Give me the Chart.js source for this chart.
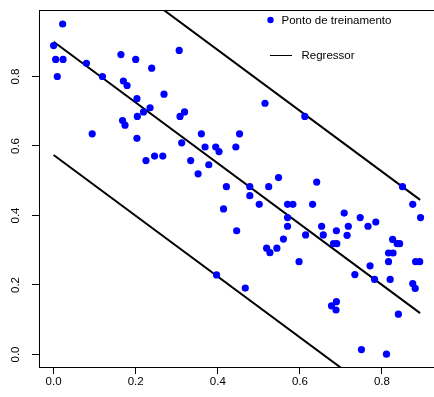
<!DOCTYPE html>
<html>
<head>
<meta charset="utf-8">
<script src="https://cdn.jsdelivr.net/npm/chart.js@4"></script>
<style>
  html, body { margin: 0; padding: 0; background: #fff; overflow: hidden; }
  #wrap { width: 438px; height: 397px; }
</style>
</head>
<body>
<div id="wrap"><canvas id="chart" width="438" height="397"></canvas></div>
<script>
// Training points
const pointsX = [
  0.022, 0.000, 0.005, 0.023, 0.009, 0.080, 0.119, 0.164, 0.200, 0.170,
  0.179, 0.203, 0.204, 0.168, 0.174, 0.094, 0.203, 0.306, 0.239, 0.269,
  0.235, 0.219, 0.319, 0.308, 0.360, 0.312, 0.369, 0.395, 0.403, 0.444,
  0.453, 0.246, 0.266, 0.225, 0.334, 0.378, 0.352, 0.421, 0.515, 0.612,
  0.548, 0.524, 0.478, 0.641, 0.850, 0.478, 0.501, 0.570, 0.583, 0.631,
  0.570, 0.570, 0.446, 0.560, 0.614, 0.653, 0.657, 0.689, 0.682, 0.690,
  0.519, 0.527, 0.544, 0.598, 0.467, 0.677, 0.689, 0.688, 0.875, 0.894,
  0.708, 0.747, 0.785, 0.766, 0.718, 0.715, 0.826, 0.837, 0.843, 0.816,
  0.827, 0.816, 0.882, 0.892, 0.771, 0.734, 0.782, 0.820, 0.875, 0.881,
  0.840, 0.750, 0.811, 0.414, 0.397
];
const pointsY = [
  0.951, 0.889, 0.849, 0.849, 0.800, 0.838, 0.800, 0.863, 0.849, 0.787,
  0.774, 0.736, 0.685, 0.673, 0.660, 0.635, 0.622, 0.875, 0.824, 0.749,
  0.710, 0.698, 0.698, 0.685, 0.635, 0.609, 0.597, 0.597, 0.584, 0.597,
  0.635, 0.571, 0.571, 0.558, 0.558, 0.546, 0.520, 0.483, 0.723, 0.685,
  0.509, 0.483, 0.483, 0.496, 0.483, 0.457, 0.432, 0.432, 0.432, 0.432,
  0.394, 0.369, 0.356, 0.332, 0.344, 0.369, 0.344, 0.356, 0.319, 0.319,
  0.306, 0.293, 0.306, 0.267, 0.191, 0.140, 0.152, 0.128, 0.432, 0.394,
  0.407, 0.394, 0.381, 0.369, 0.369, 0.343, 0.331, 0.319, 0.319, 0.292,
  0.292, 0.267, 0.267, 0.267, 0.255, 0.230, 0.216, 0.216, 0.204, 0.190,
  0.116, 0.014, 0.001, 0.419, 0.229
];

// Regressor line and the two parallel bands (endpoints)
const lineX = [0.0, 0.893];
const regressorY = [0.900, 0.119];
const upperY = [1.226, 0.445];
const lowerY = [0.574, -0.207];

const xTicks = [0.0, 0.2, 0.4, 0.6, 0.8];
const yTicks = [0.0, 0.2, 0.4, 0.6, 0.8];

const legendLabels = ['Ponto de treinamento', 'Regressor'];

const FONT = { family: '"Liberation Sans", Arial, Helvetica, sans-serif', size: 11.5 };

function toXY(xs, ys) {
  return xs.map((x, i) => ({ x, y: ys[i] }));
}

function lineDataset(ys) {
  return {
    data: toXY(lineX, ys),
    showLine: true,
    borderColor: '#000',
    borderWidth: 2,
    pointRadius: 0,
    fill: false,
  };
}

// top border of the box, rotated y labels, legend
const extras = {
  id: 'extras',
  afterDraw(chart) {
    const { ctx, chartArea, scales } = chart;
    ctx.save();
    ctx.strokeStyle = '#000';
    ctx.lineWidth = 1;
    ctx.beginPath();
    ctx.moveTo(chartArea.left, chartArea.top + 0.5);
    ctx.lineTo(chartArea.right, chartArea.top + 0.5);
    ctx.stroke();

    ctx.fillStyle = '#000';
    ctx.font = `${FONT.size}px ${FONT.family}`;
    ctx.textAlign = 'center';
    ctx.textBaseline = 'middle';
    yTicks.forEach((v) => {
      ctx.save();
      ctx.translate(16, scales.y.getPixelForValue(v));
      ctx.rotate(-Math.PI / 2);
      ctx.fillText(v.toFixed(1), 0, 0);
      ctx.restore();
    });

    // legend
    ctx.textAlign = 'left';
    ctx.fillStyle = '#0000ff';
    ctx.beginPath();
    ctx.arc(270.5, 20, 3.2, 0, Math.PI * 2);
    ctx.fill();
    ctx.fillStyle = '#000';
    ctx.fillText(legendLabels[0], 281.5, 20.5);

    ctx.strokeStyle = '#000';
    ctx.beginPath();
    ctx.moveTo(270, 55.5);
    ctx.lineTo(292, 55.5);
    ctx.stroke();
    ctx.fillText(legendLabels[1], 301.5, 55.5);
    ctx.restore();
  },
};

new Chart(document.getElementById('chart'), {
  type: 'scatter',
  data: {
    datasets: [
      {
        data: toXY(pointsX, pointsY),
        backgroundColor: '#0000ff',
        borderColor: '#0000ff',
        borderWidth: 0,
        pointRadius: 3.6,
      },
      lineDataset(regressorY),
      lineDataset(upperY),
      lineDataset(lowerY),
    ],
  },
  options: {
    responsive: false,
    animation: false,
    layout: { padding: { top: 10, right: 2, left: 0, bottom: 0 } },
    plugins: { legend: { display: false }, tooltip: { enabled: false } },
    scales: {
      x: {
        type: 'linear',
        min: -0.0356,
        max: 0.9268,
        afterBuildTicks: (scale) => { scale.ticks = xTicks.map((v) => ({ value: v })); },
        afterFit: (scale) => { scale.height = 30; },
        ticks: {
          color: '#000',
          font: FONT,
          padding: 1,
          maxRotation: 0,
          callback: (v) => Number(v).toFixed(1),
        },
        grid: { drawOnChartArea: false, drawTicks: true, tickLength: 7, color: '#000' },
        border: { display: true, color: '#000', width: 1 },
      },
      y: {
        type: 'linear',
        min: -0.036,
        max: 0.9913,
        afterBuildTicks: (scale) => { scale.ticks = yTicks.map((v) => ({ value: v })); },
        afterFit: (scale) => { scale.width = 39; },
        ticks: { display: false },
        grid: { drawOnChartArea: false, drawTicks: true, tickLength: 7, color: '#000' },
        border: { display: true, color: '#000', width: 1 },
      },
    },
  },
  plugins: [extras],
});
</script>
</body>
</html>
